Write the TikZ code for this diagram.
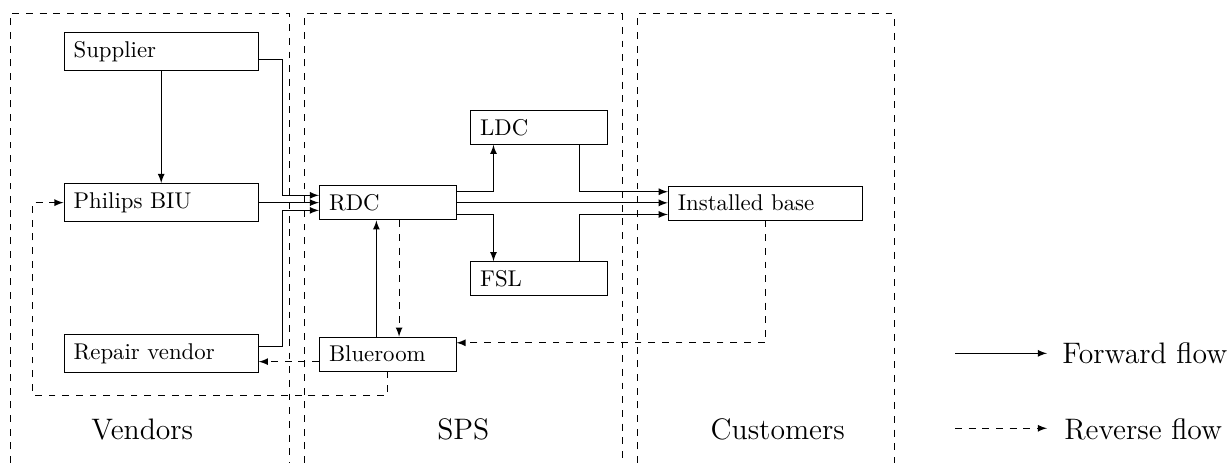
\documentclass[tikz,border=0pt]{standalone}
\usepackage{amsfonts, amsmath}
\usepackage{tikz}
\usetikzlibrary{positioning}

\begin{document}
\begin{tikzpicture}[
    widebox/.style={draw, text width=2.7cm, align=left, inner xsep=4.2pt, minimum height=0.59cm},
    smallbox/.style={draw, text width=1.81cm, align=left, inner xsep=4.2pt, minimum height=0.525cm},
    region/.style={dashed},
    regionlabel/.style={font=\fontsize{13}{15}\selectfont, anchor=base},
    legendtext/.style={font=\fontsize{13}{15}\selectfont, anchor=base west, inner sep=0pt},
    forward/.style={-latex},
    reverse/.style={dashed, -latex}
  ]
    \useasboundingbox (0,0) rectangle (18.915,7.137);

    % the three parties
    \draw[region] (0.154,0) |- (4.460,6.922) -- (4.460,0);
    \draw[region] (4.691,0) |- (9.588,6.922) -- (9.588,0);
    \draw[region] (9.820,0) |- (13.781,6.922) -- (13.781,0);
    \node[regionlabel] (vendors) at (2.194,0.355) {Vendors};
    \node[regionlabel] (sps) at (7.142,0.355) {SPS};
    \node[regionlabel] (customers) at (11.99,0.355) {Customers};

    \node[widebox] (supplier) at (2.485,6.339) {Supplier};
    \node[widebox] (philips) at (2.485,4.013) {Philips BIU};
    \node[widebox] (repair) at (2.485,1.683) {Repair vendor};
    \node[smallbox] (rdc) at (5.977,4.010) {RDC};
    \node[smallbox] (blueroom) at (5.977,1.678) {Blueroom};
    \node[smallbox] (ldc) at (8.307,5.174) {LDC};
    \node[smallbox] (fsl) at (8.307,2.841) {FSL};
    \node[widebox, minimum height=0.525cm] (base) at (11.80,4.006) {Installed base};

    % forward flow
    \draw[forward] (supplier) -- (philips);
    \draw[forward] ([yshift=-1.16mm]supplier.east) -- ++(0.357,0) |- ([yshift=1.16mm]rdc.west);
    \draw[forward] (philips.east) -- (philips.east -| rdc.west);
    \draw[forward] ([yshift=1.1mm]repair.east) -- ++(0.357,0) |- ([yshift=-1.16mm]rdc.west);
    \draw[forward] ([yshift=1.75mm]rdc.east) -| ([xshift=-7mm]ldc.south);
    \draw[forward] ([yshift=-1.75mm]rdc.east) -| ([xshift=-7mm]fsl.north);
    \draw[forward] (rdc.east) -- (rdc.east -| base.west);
    \draw[forward] ([xshift=6.3mm]ldc.south) |- ([yshift=1.75mm]base.west);
    \draw[forward] ([xshift=6.3mm]fsl.north) |- ([yshift=-1.75mm]base.west);
    \draw[forward] ([xshift=-1.75mm]blueroom.north) -- ([xshift=-1.75mm]rdc.south);

    % reverse flow
    \draw[reverse] ([xshift=1.75mm]rdc.south) -- ([xshift=1.75mm]blueroom.north);
    \draw[reverse] (base.south) |- ([yshift=1.75mm]blueroom.east);
    \draw[reverse] ([yshift=-1.16mm]blueroom.west) -- ([yshift=-1.16mm]blueroom.west -| repair.east);
    \draw[reverse] (blueroom.south) -- ++(0,-0.36) -| ([xshift=-4.83mm]philips.west) -- (philips.west);

    % legend
    \coordinate (fwdstart) at (14.722,1.690);
    \coordinate (fwdend) at (16.14,1.690);
    \coordinate (revstart) at (14.722,0.535);
    \coordinate (revend) at (16.14,0.535);
    \draw[forward] (fwdstart) -- (fwdend);
    \draw[reverse] (revstart) -- (revend);
    \node[legendtext] (fwdtext) at (16.37,1.537) {Forward flow};
    \node[legendtext] (revtext) at (16.40,0.355) {Reverse flow};
  \end{tikzpicture}
\end{document}
